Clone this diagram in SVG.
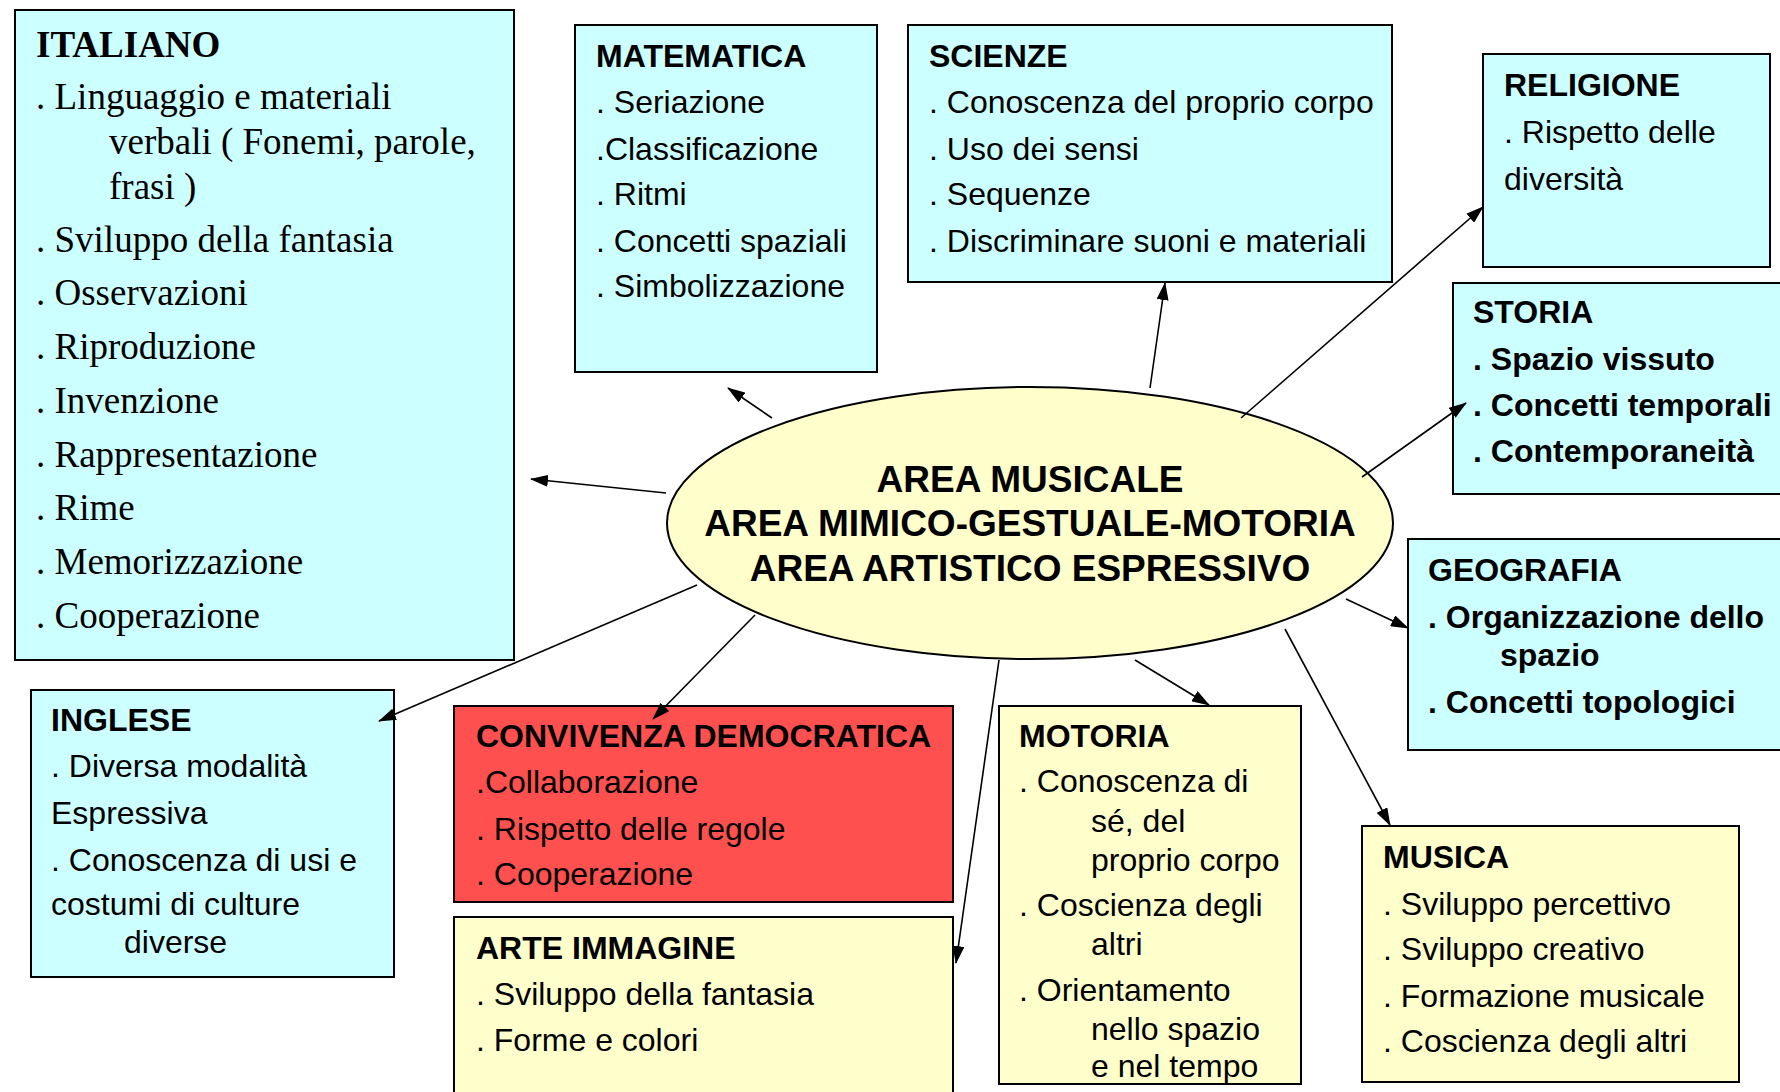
<svg xmlns="http://www.w3.org/2000/svg" width="1780" height="1092" viewBox="0 0 1780 1092">
<defs>
<style>
.box{stroke:#000;stroke-width:2}
.cy{fill:#CCFFFF}
.ye{fill:#FFFFCC}
.rd{fill:#FF5050}
.t{font-family:"Liberation Sans",Arial,sans-serif;font-size:32px;fill:#000}
.b{font-weight:bold}
.tr{font-family:"Liberation Serif","Times New Roman",serif;font-size:37px;fill:#000}
.c{font-family:"Liberation Sans",Arial,sans-serif;font-size:37px;font-weight:bold;text-anchor:middle}
.ln{stroke:#000;stroke-width:1.6;fill:none}
</style>
<marker id="ah" viewBox="0 0 18 12" refX="17" refY="6" markerWidth="18" markerHeight="12" markerUnits="userSpaceOnUse" orient="auto">
<path d="M0,0 L18,6 L0,12 z" fill="#000"/>
</marker>
</defs>
<rect width="1780" height="1092" fill="#fff"/>

<g id="italiano">
<rect class="box cy" x="15" y="10" width="499" height="650"/>
<text class="tr b" x="36" y="57">ITALIANO</text>
<text class="tr" x="36" y="109">. Linguaggio e materiali</text>
<text class="tr" x="109" y="154">verbali ( Fonemi, parole,</text>
<text class="tr" x="109" y="199">frasi )</text>
<text class="tr" x="36" y="252">. Sviluppo della fantasia</text>
<text class="tr" x="36" y="305">. Osservazioni</text>
<text class="tr" x="36" y="359">. Riproduzione</text>
<text class="tr" x="36" y="413">. Invenzione</text>
<text class="tr" x="36" y="467">. Rappresentazione</text>
<text class="tr" x="36" y="520">. Rime</text>
<text class="tr" x="36" y="574">. Memorizzazione</text>
<text class="tr" x="36" y="628">. Cooperazione</text>
</g>

<g id="matematica">
<rect class="box cy" x="575" y="25" width="302" height="347"/>
<text class="t b" x="596" y="67">MATEMATICA</text>
<text class="t" x="596" y="113">. Seriazione</text>
<text class="t" x="596" y="160">.Classificazione</text>
<text class="t" x="596" y="205">. Ritmi</text>
<text class="t" x="596" y="252">. Concetti spaziali</text>
<text class="t" x="596" y="297">. Simbolizzazione</text>
</g>

<g id="scienze">
<rect class="box cy" x="908" y="25" width="484" height="257"/>
<text class="t b" x="929" y="67">SCIENZE</text>
<text class="t" x="929" y="113">. Conoscenza del proprio corpo</text>
<text class="t" x="929" y="160">. Uso dei sensi</text>
<text class="t" x="929" y="205">. Sequenze</text>
<text class="t" x="929" y="252">. Discriminare suoni e materiali</text>
</g>

<g id="religione">
<rect class="box cy" x="1483" y="54" width="287" height="213"/>
<text class="t b" x="1504" y="96">RELIGIONE</text>
<text class="t" x="1504" y="143">. Rispetto delle</text>
<text class="t" x="1504" y="190">diversità</text>
</g>

<g id="storia">
<rect class="box cy" x="1453" y="283" width="340" height="211"/>
<text class="t b" x="1473" y="323">STORIA</text>
<text class="t b" x="1473" y="370">. Spazio vissuto</text>
<text class="t b" x="1473" y="416">. Concetti temporali</text>
<text class="t b" x="1473" y="462">. Contemporaneità</text>
</g>

<g id="geografia">
<rect class="box cy" x="1408" y="539" width="385" height="211"/>
<text class="t b" x="1428" y="581">GEOGRAFIA</text>
<text class="t b" x="1428" y="628">. Organizzazione dello</text>
<text class="t b" x="1500" y="666">spazio</text>
<text class="t b" x="1428" y="713">. Concetti topologici</text>
</g>

<g id="musica">
<rect class="box ye" x="1362" y="826" width="377" height="256"/>
<text class="t b" x="1383" y="868">MUSICA</text>
<text class="t" x="1383" y="915">. Sviluppo percettivo</text>
<text class="t" x="1383" y="960">. Sviluppo creativo</text>
<text class="t" x="1383" y="1007">. Formazione musicale</text>
<text class="t" x="1383" y="1052">. Coscienza degli altri</text>
</g>

<g id="motoria">
<rect class="box ye" x="999" y="706" width="302" height="378"/>
<text class="t b" x="1019" y="747">MOTORIA</text>
<text class="t" x="1019" y="792">. Conoscenza di</text>
<text class="t" x="1091" y="832">sé, del</text>
<text class="t" x="1091" y="871">proprio corpo</text>
<text class="t" x="1019" y="916">. Coscienza degli</text>
<text class="t" x="1091" y="955">altri</text>
<text class="t" x="1019" y="1001">. Orientamento</text>
<text class="t" x="1091" y="1040">nello spazio</text>
<text class="t" x="1091" y="1077">e nel tempo</text>
</g>

<g id="arte">
<rect class="box ye" x="454" y="917" width="499" height="190"/>
<text class="t b" x="476" y="959">ARTE IMMAGINE</text>
<text class="t" x="476" y="1005">. Sviluppo della fantasia</text>
<text class="t" x="476" y="1051">. Forme e colori</text>
</g>

<g id="convivenza">
<rect class="box rd" x="454" y="706" width="499" height="196"/>
<text class="t b" x="476" y="747">CONVIVENZA DEMOCRATICA</text>
<text class="t" x="476" y="793">.Collaborazione</text>
<text class="t" x="476" y="840">. Rispetto delle regole</text>
<text class="t" x="476" y="885">. Cooperazione</text>
</g>

<g id="inglese">
<rect class="box cy" x="31" y="690" width="363" height="287"/>
<text class="t b" x="51" y="731">INGLESE</text>
<text class="t" x="51" y="777">. Diversa modalità</text>
<text class="t" x="51" y="824">Espressiva</text>
<text class="t" x="51" y="871">. Conoscenza di usi e</text>
<text class="t" x="51" y="915">costumi di culture</text>
<text class="t" x="124" y="953">diverse</text>
</g>

<g id="centro">
<ellipse class="box ye" cx="1030" cy="523" rx="363" ry="136"/>
<text class="c" x="1030" y="492">AREA MUSICALE</text>
<text class="c" x="1030" y="536">AREA MIMICO-GESTUALE-MOTORIA</text>
<text class="c" x="1030" y="581">AREA ARTISTICO ESPRESSIVO</text>
</g>

<g id="connectors">
<line class="ln" x1="666" y1="493" x2="531" y2="479" marker-end="url(#ah)"/>
<line class="ln" x1="772" y1="418" x2="728" y2="388" marker-end="url(#ah)"/>
<line class="ln" x1="1150" y1="388" x2="1165" y2="283" marker-end="url(#ah)"/>
<line class="ln" x1="1241" y1="418" x2="1483" y2="207" marker-end="url(#ah)"/>
<line class="ln" x1="1362" y1="477" x2="1466" y2="403" marker-end="url(#ah)"/>
<line class="ln" x1="1346" y1="599" x2="1408" y2="628" marker-end="url(#ah)"/>
<line class="ln" x1="1285" y1="629" x2="1390" y2="825" marker-end="url(#ah)"/>
<line class="ln" x1="1135" y1="660" x2="1209" y2="705" marker-end="url(#ah)"/>
<line class="ln" x1="999" y1="660" x2="956" y2="963" marker-end="url(#ah)"/>
<line class="ln" x1="755" y1="615" x2="653" y2="719" marker-end="url(#ah)"/>
<line class="ln" x1="697" y1="585" x2="379" y2="721" marker-end="url(#ah)"/>
</g>
</svg>
